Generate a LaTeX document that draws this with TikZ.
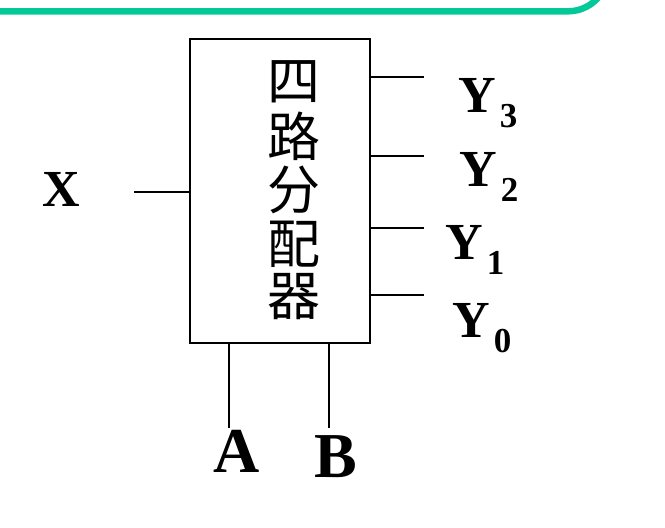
\documentclass[tikz,border=0pt]{standalone}
\usepackage{fontspec}
\setmainfont{Liberation Serif}
\newfontfamily\cjk{Noto Sans CJK SC}
\definecolor{bargreen}{RGB}{3,201,152}
\tikzset{
  wire/.style={line width=2pt, black},
  lbl/.style={inner sep=0pt, font=\fontsize{52}{52}\selectfont\bfseries},
  big/.style={inner sep=0pt, font=\fontsize{64}{64}\selectfont\bfseries},
  cjkc/.style={inner sep=0pt, font=\cjk\fontsize{53}{53}\selectfont},
}
\newcommand{\ysub}[1]{\textbf{Y}\hspace{4pt}\raisebox{-15pt}{\fontsize{35}{35}\selectfont\bfseries #1}}
\begin{document}
\begin{tikzpicture}[x=1pt,y=-1pt]
\useasboundingbox (0,0) rectangle (665,528);
% top green bar
\draw[bargreen, line width=6.5pt] (-5,11.3) -- (568,11.3) arc[start angle=90, end angle=15, radius=40];
% box
\node[draw, line width=2pt, minimum width=180.5pt, minimum height=304.2pt, inner sep=0pt, anchor=north west] (box) at (188.7,37.6) {};
% chinese text
\node[cjkc] (c1) at (294,82) {四};
\node[cjkc] (c2) at (294,136) {路};
\node[cjkc] (c3) at (294,190) {分};
\node[cjkc] (c4) at (294,244) {配};
\node[cjkc] (c5) at (294,297) {器};
% input X
\coordinate (xin) at (134,191.5);
\draw[wire] (xin) -- (xin -| box.west);
\node[lbl, anchor=base west] (X) at (42,206.5) {X};
% outputs
\coordinate (o3) at (424,76.7);
\coordinate (o2) at (424,156);
\coordinate (o1) at (424,228.3);
\coordinate (o0) at (424,295);
\draw[wire] (o3 -| box.east) -- (o3);
\draw[wire] (o2 -| box.east) -- (o2);
\draw[wire] (o1 -| box.east) -- (o1);
\draw[wire] (o0 -| box.east) -- (o0);
\node[lbl, anchor=base west] (Y3) at (458,112) {\ysub{3}};
\node[lbl, anchor=base west] (Y2) at (459,186) {\ysub{2}};
\node[lbl, anchor=base west] (Y1) at (445,259) {\ysub{1}};
\node[lbl, anchor=base west] (Y0) at (452,337) {\ysub{0}};
% selects
\coordinate (ca) at (229,428);
\coordinate (cb) at (329,428);
\draw[wire] (ca |- box.south) -- (ca);
\draw[wire] (cb |- box.south) -- (cb);
\node[big, anchor=base] (A) at (236.5,472) {A};
\node[big, anchor=base] (B) at (335.5,477) {B};
\end{tikzpicture}
\end{document}
